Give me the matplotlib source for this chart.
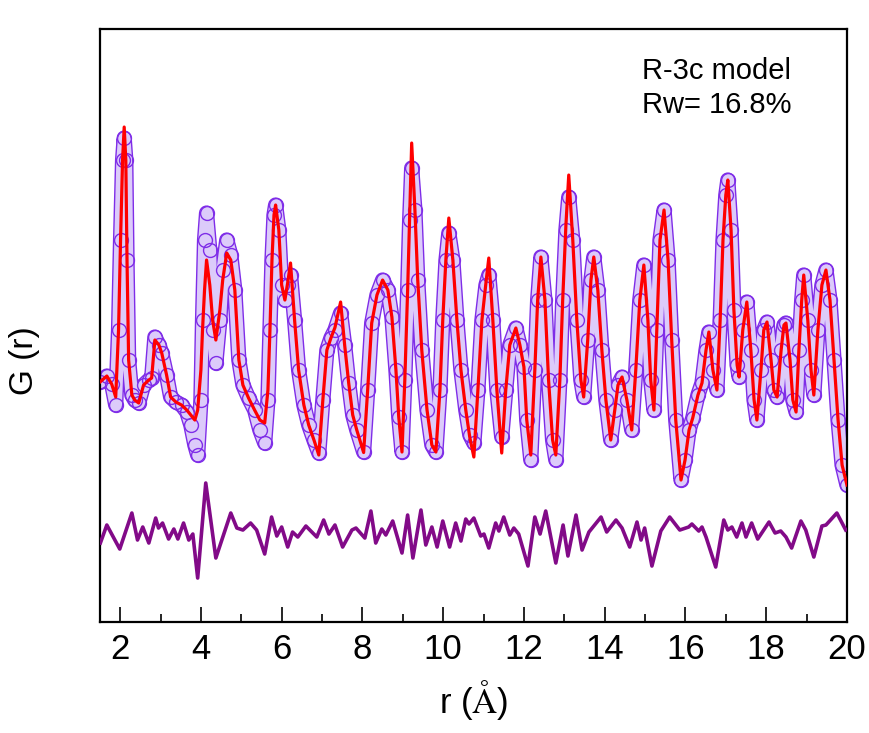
import matplotlib
matplotlib.use("Agg")
import matplotlib.pyplot as plt
from matplotlib.ticker import MultipleLocator

# ---------------------------------------------------
#  Data (G(r) in arbitrary units)
# ---------------------------------------------------
r_obs = [1.50, 1.67, 1.79, 1.89, 1.96, 2.01, 2.06, 2.10, 2.14, 2.17,
         2.21, 2.29, 2.36, 2.46, 2.58, 2.71, 2.78, 2.86, 2.96, 3.03,
         3.15, 3.25, 3.38, 3.52, 3.65, 3.75, 3.85, 3.92, 4.00, 4.04,
         4.09, 4.14, 4.22, 4.29, 4.37, 4.47, 4.54, 4.64, 4.74, 4.84,
         4.94, 5.04, 5.18, 5.33, 5.46, 5.58, 5.66, 5.71, 5.76, 5.81,
         5.85, 5.93, 6.00, 6.08, 6.15, 6.22, 6.32, 6.42, 6.55, 6.67,
         6.80, 6.92, 7.02, 7.12, 7.22, 7.32, 7.46, 7.56, 7.66, 7.76,
         7.86, 8.03, 8.13, 8.23, 8.36, 8.50, 8.63, 8.73, 8.83, 8.90,
         8.98, 9.05, 9.12, 9.17, 9.22, 9.30, 9.37, 9.47, 9.60, 9.72,
         9.82, 9.92, 9.99, 10.07, 10.14, 10.24, 10.34, 10.44, 10.56, 10.66,
         10.76, 10.86, 10.96, 11.06, 11.13, 11.23, 11.33, 11.45, 11.55, 11.65,
         11.80, 11.90, 12.00, 12.07, 12.17, 12.27, 12.34, 12.42, 12.52, 12.61,
         12.71, 12.79, 12.89, 12.96, 13.04, 13.11, 13.21, 13.31, 13.41, 13.48,
         13.58, 13.66, 13.73, 13.83, 13.93, 14.03, 14.15, 14.25, 14.33, 14.43,
         14.55, 14.67, 14.77, 14.87, 14.97, 15.07, 15.14, 15.22, 15.29, 15.37,
         15.47, 15.57, 15.66, 15.76, 15.89, 15.99, 16.09, 16.18, 16.31, 16.41,
         16.51, 16.58, 16.68, 16.78, 16.86, 16.93, 17.00, 17.05, 17.13, 17.20,
         17.28, 17.33, 17.42, 17.52, 17.62, 17.70, 17.77, 17.87, 17.94, 18.02,
         18.12, 18.19, 18.27, 18.37, 18.44, 18.49, 18.59, 18.66, 18.74, 18.81,
         18.88, 18.93, 19.03, 19.11, 19.18, 19.28, 19.38, 19.48, 19.58, 19.68,
         19.78, 19.88, 20.00]

g_obs = [-0.08, 0.16, -0.16, -1.0, 2.0, 5.6, 8.8, 9.68, 8.8, 4.8,
         0.8, -0.6, -0.8, -0.92, -0.2, 0.0, 0.08, 1.72, 1.4, 1.08,
         0.2, -0.68, -0.88, -1.0, -1.28, -1.8, -2.6, -3.0, -0.8, 2.4,
         5.6, 6.68, 5.2, 2.0, 0.68, 2.4, 4.4, 5.6, 5.0, 3.6,
         0.8, -0.2, -0.72, -1.2, -2.0, -2.52, -0.8, 2.0, 4.8, 6.6,
         7.0, 6.0, 3.8, 3.2, 3.8, 4.2, 2.4, 0.4, -1.0, -1.8,
         -2.4, -2.92, -0.8, 1.2, 1.68, 2.0, 2.68, 1.4, -0.12, -1.4,
         -2.0, -2.88, -0.4, 2.28, 3.4, 4.0, 3.6, 2.52, 0.4, -1.48,
         -2.88, 0.0, 3.6, 6.4, 8.48, 6.8, 4.0, 1.2, -1.2, -2.6,
         -2.88, -0.4, 2.4, 4.8, 5.88, 4.8, 2.4, 0.4, -1.2, -2.2,
         -2.52, -0.4, 2.4, 3.8, 4.2, 2.4, -0.4, -2.28, -0.4, 1.4,
         2.08, 1.4, 0.52, -1.6, -3.2, 0.4, 3.2, 4.92, 3.2, 0.0,
         -2.4, -3.2, 0.0, 3.2, 6.0, 7.32, 5.6, 2.4, 0.0, -0.68,
         1.6, 4.0, 4.92, 3.6, 1.2, -0.8, -2.4, -1.2, -0.2, 0.12,
         -0.8, -2.0, 0.4, 3.2, 4.6, 2.4, 0.0, -1.2, 2.0, 5.6,
         6.8, 4.8, 1.6, -1.6, -4.0, -3.2, -2.0, -1.52, -0.6, -0.12,
         1.2, 1.92, 0.4, -0.4, 2.4, 5.6, 7.4, 8.0, 6.0, 2.8,
         0.6, 0.12, 2.0, 3.12, 1.2, -0.8, -1.6, 0.4, 2.0, 2.32,
         0.8, -0.4, -0.68, 1.2, 2.2, 2.28, 0.8, -0.8, -1.28, 1.2,
         3.2, 4.2, 2.4, 0.4, -0.6, 2.0, 3.8, 4.4, 3.2, 0.8,
         -1.6, -3.4, -4.2]

g_calc = [-0.08, 0.16, -0.16, -0.68, 2.0, 5.6, 8.8, 10.12, 8.8, 4.8,
          0.8, -0.6, -0.8, -0.92, -0.2, 0.0, 0.08, 1.6, 1.4, 1.08,
          0.2, -0.68, -0.88, -1.0, -1.2, -1.4, -1.6, -1.2, 0.4, 2.0,
          3.6, 4.8, 3.8, 2.4, 1.6, 2.8, 4.0, 5.08, 4.8, 3.6,
          0.8, -0.2, -0.72, -1.2, -1.6, -1.72, -0.4, 2.0, 4.8, 6.6,
          7.0, 6.0, 3.8, 3.2, 3.9, 4.68, 2.4, 0.4, -1.0, -1.8,
          -2.4, -3.0, -0.8, 1.2, 1.68, 2.1, 3.12, 1.4, -0.12, -1.4,
          -2.0, -2.9, -0.4, 2.28, 3.4, 4.0, 3.6, 2.52, 0.4, -1.48,
          -2.88, 0.0, 3.6, 6.6, 9.48, 6.8, 4.0, 1.2, -1.2, -2.6,
          -2.88, -0.4, 2.4, 4.9, 6.48, 4.8, 2.4, 0.4, -1.2, -2.3,
          -3.08, -0.4, 2.4, 3.9, 4.88, 2.4, -0.4, -2.92, -0.4, 1.4,
          2.08, 1.4, 0.52, -1.6, -3.0, 0.4, 3.2, 4.92, 3.2, 0.0,
          -2.4, -3.0, 0.0, 3.2, 6.2, 8.2, 5.6, 2.4, 0.0, -0.68,
          1.6, 4.0, 4.92, 3.6, 1.2, -0.8, -2.4, -1.2, -0.2, 0.12,
          -0.8, -2.0, 0.4, 3.2, 4.6, 2.4, 0.0, -1.2, 2.0, 5.6,
          6.8, 4.8, 1.6, -1.6, -4.0, -3.2, -2.0, -1.52, -0.6, -0.12,
          1.2, 1.92, 0.4, -0.4, 2.4, 5.6, 7.4, 8.0, 6.0, 2.8,
          0.6, 0.12, 2.0, 3.12, 1.2, -0.8, -1.6, 0.4, 2.0, 2.32,
          0.8, -0.4, -0.68, 1.2, 2.2, 2.28, 0.8, -0.8, -1.28, 1.2,
          3.2, 4.2, 2.4, 0.4, -0.6, 2.0, 3.8, 4.4, 3.2, 0.8,
          -1.6, -3.4, -4.2]

# difference curve (obs - calc), drawn with an offset
r_diff = [1.51, 1.67, 1.99, 2.29, 2.43, 2.56, 2.71, 2.88, 2.95, 3.05,
          3.20, 3.33, 3.43, 3.57, 3.70, 3.80, 3.92, 4.12, 4.37, 4.74,
          4.89, 5.04, 5.23, 5.38, 5.58, 5.75, 5.88, 6.00, 6.15, 6.27,
          6.40, 6.60, 6.87, 7.04, 7.17, 7.32, 7.51, 7.74, 7.84, 8.06,
          8.21, 8.33, 8.48, 8.58, 8.75, 8.98, 9.12, 9.25, 9.45, 9.57,
          9.72, 9.85, 9.99, 10.16, 10.31, 10.44, 10.56, 10.64, 10.76, 10.93,
          11.01, 11.13, 11.30, 11.38, 11.50, 11.65, 11.75, 11.87, 12.10, 12.27,
          12.40, 12.54, 12.79, 12.97, 13.09, 13.29, 13.44, 13.61, 13.91, 14.05,
          14.28, 14.43, 14.62, 14.80, 14.90, 14.99, 15.17, 15.39, 15.61, 15.86,
          16.08, 16.16, 16.33, 16.41, 16.51, 16.75, 16.95, 17.05, 17.15, 17.27,
          17.40, 17.50, 17.64, 17.79, 18.07, 18.22, 18.36, 18.49, 18.63, 18.86,
          18.98, 19.18, 19.38, 19.48, 19.75, 19.97]

g_diff = [-6.52, -5.8, -6.76, -5.32, -6.4, -5.88, -6.52, -5.52, -5.92, -5.72,
          -6.36, -5.96, -6.36, -5.72, -6.4, -6.16, -7.92, -4.12, -7.12, -5.32,
          -5.92, -6.0, -5.72, -6.0, -6.96, -5.48, -6.24, -5.88, -6.68, -6.08,
          -6.28, -5.84, -6.28, -5.6, -6.16, -5.8, -6.68, -6.0, -5.92, -6.32,
          -5.24, -6.52, -5.96, -6.2, -5.64, -6.92, -5.4, -7.12, -5.2, -6.6,
          -5.88, -6.68, -5.64, -6.68, -5.72, -6.44, -5.56, -5.76, -5.52, -6.24,
          -6.16, -6.72, -5.72, -6.04, -5.48, -6.2, -5.92, -6.16, -7.44, -5.48,
          -6.16, -5.24, -7.32, -5.8, -7.04, -5.4, -6.8, -6.08, -5.48, -6.08,
          -5.6, -5.92, -6.68, -5.68, -6.4, -5.92, -7.44, -6.04, -5.48, -6.0,
          -5.88, -5.76, -6.04, -5.88, -6.28, -7.48, -5.6, -6.0, -5.88, -6.28,
          -5.72, -6.28, -5.72, -6.36, -5.68, -6.12, -6.04, -6.28, -6.72, -5.64,
          -6.0, -7.08, -5.84, -5.8, -5.32, -6.0]

x_ticks = [2, 4, 6, 8, 10, 12, 14, 16, 18, 20]
label_text = ["R-3c model", "Rw= 16.8%"]

# ---------------------------------------------------
#  Graph
# ---------------------------------------------------
purple = "#7F2DE8"
lavender = "#DCCBFA"
plt.rcParams["mathtext.fontset"] = "stix"

fig = plt.figure(figsize=(8.7, 7.33), dpi=100)
ax = fig.add_axes([0.1149, 0.1514, 0.8586, 0.809])

# open-circle data: outlined tube + rings
ax.plot(r_obs, g_obs, color=purple, lw=11, solid_joinstyle="round",
        solid_capstyle="round", zorder=1)
ax.plot(r_obs, g_obs, color=lavender, lw=9.0, solid_joinstyle="round",
        solid_capstyle="round", zorder=1.1)
ax.plot(r_obs, g_obs, "o", mfc="none", mec=purple, ms=10, mew=1.0, zorder=2)
ax.plot(r_obs, g_calc, color="red", lw=2.3, solid_joinstyle="round", zorder=3)
ax.plot(r_diff, g_diff, color="#820A88", lw=2.6, solid_joinstyle="round", zorder=3)

ax.set_xlim(1.5, 20)
ax.set_ylim(-9.68, 14.04)
ax.set_xticks(x_ticks)
ax.xaxis.set_minor_locator(MultipleLocator(1))
ax.set_yticks([])
ax.tick_params(axis="x", which="major", direction="in", length=11, width=1.2,
               pad=8, top=False, labelsize=25)
ax.tick_params(axis="x", which="minor", direction="in", length=6, width=1.2, top=False)
for lab in ax.get_xticklabels():
    lab.set_family("Liberation Sans")
for sp in ax.spines.values():
    sp.set_linewidth(1.6)

ax.set_xlabel(r"r (${\rm\AA}$)", fontsize=25, family="Liberation Sans")
ax.xaxis.set_label_coords(0.5, -0.095)
ax.set_ylabel("G (r)", fontsize=24, family="Liberation Sans")
ax.yaxis.set_label_coords(-0.08, 0.44)

ax.text(0.7256, 0.9157, label_text[0], transform=ax.transAxes, fontsize=21,
        family="Liberation Sans", va="baseline")
ax.text(0.7256, 0.8583, label_text[1], transform=ax.transAxes, fontsize=21,
        family="Liberation Sans", va="baseline")

fig.savefig("out.png", dpi=100, facecolor="white")
